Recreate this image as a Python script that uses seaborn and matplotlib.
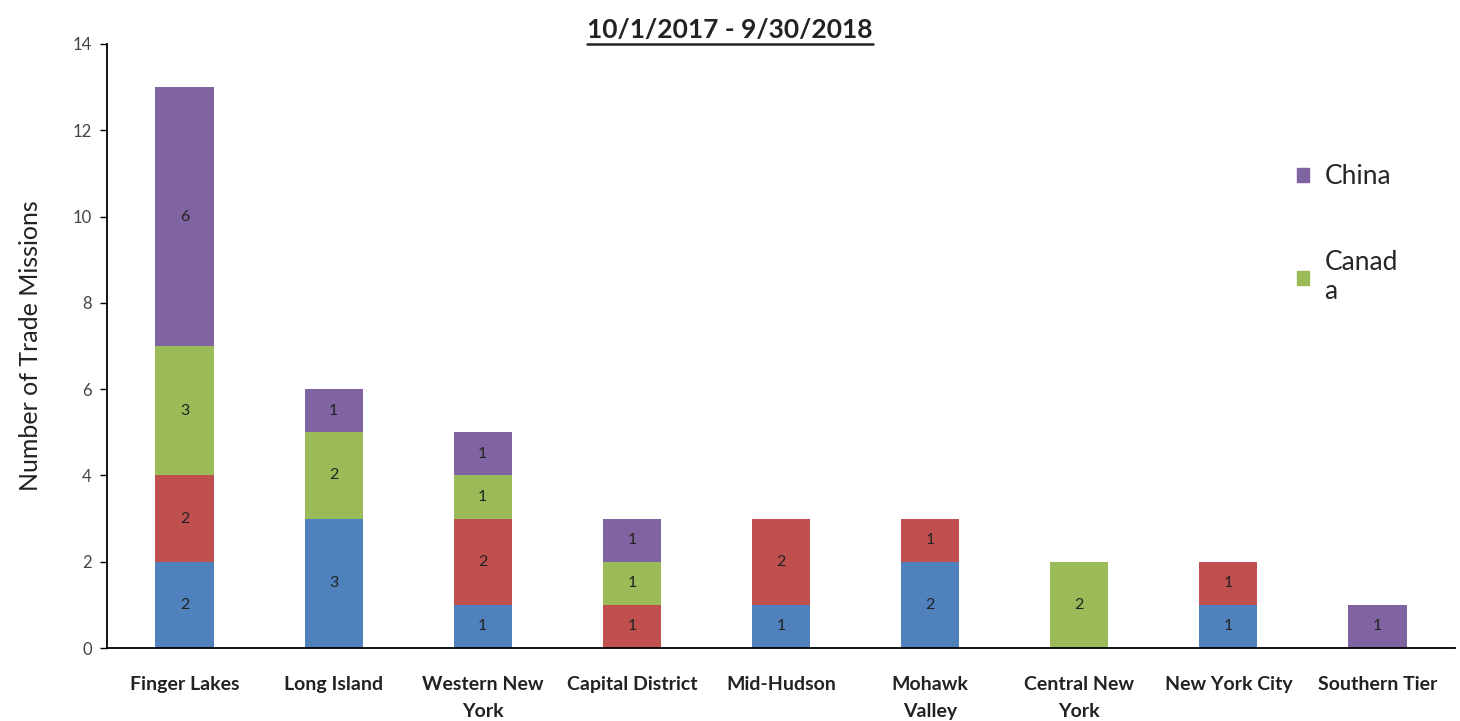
import numpy as np
import seaborn as sns
import matplotlib.pyplot as plt
from matplotlib.lines import Line2D
from matplotlib.patches import Patch

regions = ["Finger Lakes", "Long Island", "Western New\nYork", "Capital District",
           "Mid-Hudson", "Mohawk\nValley", "Central New\nYork", "New York City",
           "Southern Tier"]

# stacked from bottom to top
series_names = ["Series 1", "Series 2", "Canada", "China"]
blue_vals = [2, 3, 1, 0, 1, 2, 0, 1, 0]
red_vals = [2, 0, 2, 1, 2, 1, 0, 1, 0]
canada_vals = [3, 2, 1, 1, 0, 0, 2, 0, 0]
china_vals = [6, 1, 1, 1, 0, 0, 0, 0, 1]
colors = ["#4F81BD", "#C0504D", "#9BBB59", "#8064A2"]

sns.set_theme(style="white")
plt.rcParams["font.family"] = ["Lato", "DejaVu Sans"]

fig = plt.figure(figsize=(14.6, 7.21), dpi=100)
ax = fig.add_axes([0.0733, 0.1012, 0.9233, 0.8378])

bottom = np.zeros(len(regions))
for vals, col in zip([blue_vals, red_vals, canada_vals, china_vals], colors):
    vals = np.array(vals, dtype=float)
    sns.barplot(x=regions, y=vals, bottom=bottom, color=col, width=0.39,
                saturation=1, ax=ax, edgecolor="none")
    for i, v in enumerate(vals):
        if v > 0:
            ax.text(i, bottom[i] + v / 2, f"{int(v)}", ha="center", va="center",
                    fontsize=11.5, color="#222222")
    bottom += vals

ax.set_xlim(-0.52, 8.52)
ax.set_ylim(0, 14)
ax.set_yticks(range(0, 15, 2))
ax.tick_params(axis="y", labelsize=12, labelcolor="#444444", length=5,
               width=1, direction="out", left=True, color="black", pad=6)
ax.tick_params(axis="x", labelsize=14, length=0, pad=20)
for lbl in ax.get_xticklabels():
    lbl.set_fontweight("bold")
    lbl.set_color("#222222")
    lbl.set_linespacing(1.7)
ax.set_ylabel("Number of Trade Missions", fontsize=18, color="#222222", labelpad=22)
ax.set_xlabel("")
sns.despine(ax=ax)
for s in ["left", "bottom"]:
    ax.spines[s].set_color("black")
    ax.spines[s].set_linewidth(1.3)

# legend only shows China and Canada
handles = [Patch(color=colors[3], label="China"),
           Patch(color=colors[2], label="Canad\na")]
ax.legend(handles=handles, loc="upper left", bbox_to_anchor=(0.865, 0.84),
          frameon=False, fontsize=19, handlelength=0.45, handleheight=0.45,
          labelspacing=2.3, handletextpad=0.6)

title = fig.text(0.5, 0.958, "10/1/2017 - 9/30/2018", ha="center", va="center",
                 fontsize=19, fontweight="bold", color="#222222")
fig.canvas.draw()
bb = title.get_window_extent().transformed(fig.transFigure.inverted())
fig.add_artist(Line2D([bb.x0, bb.x1], [bb.y0 - 0.003, bb.y0 - 0.003],
                      transform=fig.transFigure, color="#222222", linewidth=1.8))

fig.savefig("out.png", dpi=100)
